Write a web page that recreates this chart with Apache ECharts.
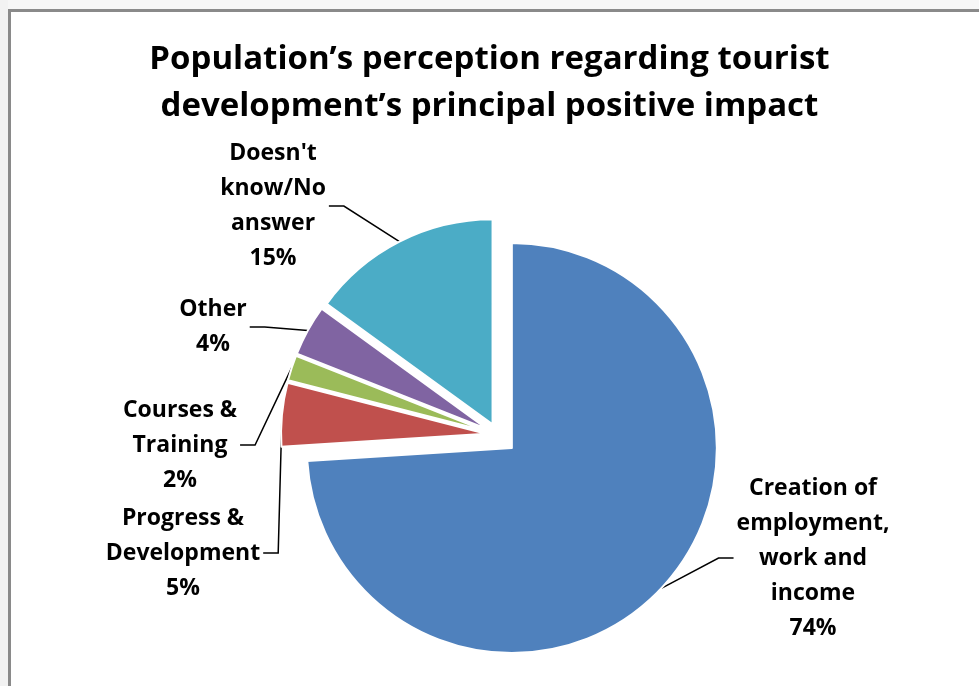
<!DOCTYPE html>
<html><head><meta charset="utf-8">
<script src="https://cdn.jsdelivr.net/npm/echarts@6/dist/echarts.min.js"></script>
<style>
html,body{margin:0;padding:0;background:#fff;}
#chart{position:absolute;left:0;top:0;width:979px;height:686px;}
</style></head>
<body><div id="chart"></div>
<script>
const categories = ['Creation of employment, work and income', 'Progress & Development', 'Courses & Training', 'Other', "Doesn't know/No answer"];
const labelNames = ['Creation of\nemployment,\nwork and\nincome', 'Progress &\nDevelopment', 'Courses &\nTraining', 'Other', "Doesn't\nknow/No\nanswer"];
const values = [74, 5, 2, 4, 15];
const colors = ['#4F81BD', '#C0504D', '#9BBB59', '#8064A2', '#4BACC6'];
const titleText = 'Population\u2019s perception regarding tourist\ndevelopment\u2019s principal positive impact';

// label centres (layout, px)
const labelCenters = [[813, 558], [183, 553], [180, 445], [213, 327], [273, 206]];
const CENTER = [498, 435];
const FONT = '"Open Sans", Calibri, Lato, sans-serif';

function buildSeries(visibleFn, offset) {
  return {
    type: 'pie',
    center: CENTER,
    radius: 205,
    startAngle: 90,
    clockwise: true,
    selectedMode: 'multiple',
    selectedOffset: offset,
    silent: true,
    animation: false,
    avoidLabelOverlap: false,
    emphasis: { disabled: true },
    label: {
      show: true,
      formatter: p => labelNames[p.dataIndex] + '\n' + Math.round(p.percent) + '%',
      fontFamily: FONT, fontWeight: 'bold', fontSize: 23, lineHeight: 35,
      color: '#000'
    },
    labelLine: { show: true, length: 10, length2: 15, lineStyle: { color: '#000', width: 1.5 } },
    labelLayout: function (p) {
      if (!p || !p.labelRect || !p.labelLinePoints || !p.labelLinePoints[0]) return {};
      const r = p.labelRect;
      let ax = r.x;
      if (p.align === 'right') ax = r.x + r.width;
      else if (p.align === 'center') ax = r.x + r.width / 2;
      let ay = r.y + r.height / 2;
      if (p.verticalAlign === 'top') ay = r.y;
      else if (p.verticalAlign === 'bottom') ay = r.y + r.height;
      const anchor = p.labelLinePoints[0];
      // labels live in the (offset) sector space: undo the selection offset
      const vx = anchor[0] - CENTER[0], vy = anchor[1] - CENTER[1];
      const len = Math.sqrt(vx * vx + vy * vy) || 1;
      const ox = offset * vx / len, oy = offset * vy / len;
      const t = labelCenters[p.dataIndex];
      const c = [t[0] - ox, t[1] - oy];
      const half = r.width / 2 + 3;
      const onLeft = c[0] < anchor[0];
      const endX = onLeft ? c[0] + half : c[0] - half;
      const elbowX = onLeft ? endX + 15 : endX - 15;
      return {
        dx: c[0] - ax, dy: c[1] - ay,
        align: 'center', verticalAlign: 'middle',
        labelLinePoints: [[anchor[0], anchor[1]], [elbowX, c[1]], [endX, c[1]]]
      };
    },
    data: values.map((v, i) => {
      const vis = visibleFn(i);
      return {
        name: categories[i], value: v, selected: vis,
        itemStyle: vis ? { color: colors[i], borderColor: '#fff', borderWidth: 2 } : { color: 'rgba(0,0,0,0)', borderWidth: 0 },
        label: { show: vis },
        labelLine: { show: vis }
      };
    })
  };
}

const chart = echarts.init(document.getElementById('chart'), null, { renderer: 'canvas' });
chart.setOption({
  backgroundColor: '#fff',
  animation: false,
  title: {
    text: titleText, left: 'center', top: 31,
    textStyle: { fontFamily: FONT, fontWeight: 'bold', fontSize: 33, lineHeight: 47, color: '#000' }
  },
  graphic: [
    { type: 'rect', left: 0, top: 0, shape: { width: 979, height: 9 }, style: { fill: '#f6f6f6' }, silent: true },
    { type: 'rect', left: 0, top: 0, shape: { width: 8, height: 686 }, style: { fill: '#f2f2f2' }, silent: true },
    { type: 'rect', left: 8, top: 9, shape: { width: 971, height: 3 }, style: { fill: '#8a8a8a' }, silent: true },
    { type: 'rect', left: 8, top: 9, shape: { width: 3, height: 677 }, style: { fill: '#8a8a8a' }, silent: true }
  ],
  series: [
    buildSeries(i => i === 0, 19),
    buildSeries(i => i !== 0, 12)
  ]
});
</script>
</body></html>
